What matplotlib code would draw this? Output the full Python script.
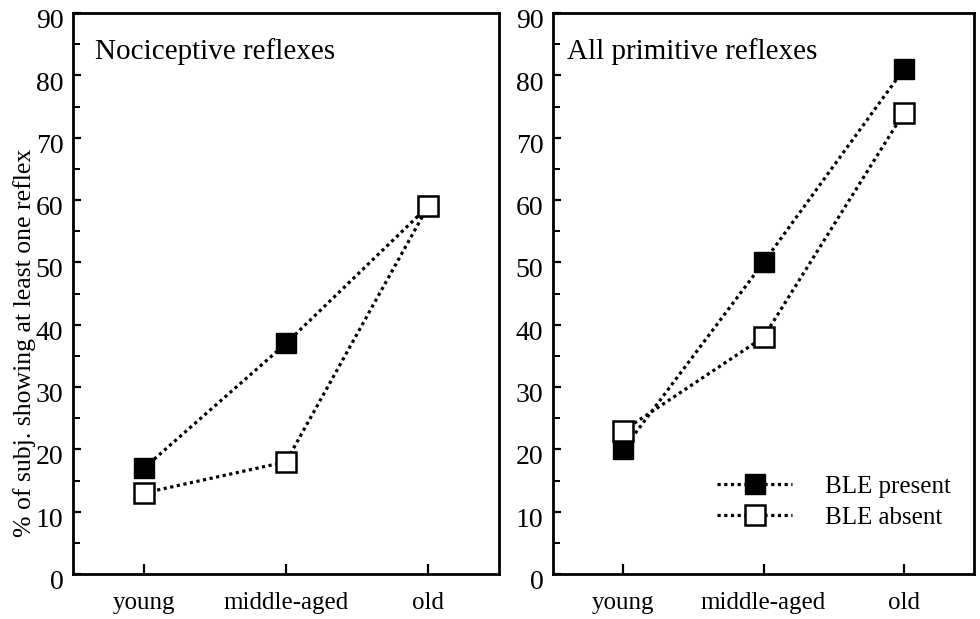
import matplotlib
matplotlib.use('Agg')
import matplotlib.pyplot as plt
from matplotlib.ticker import MultipleLocator
from matplotlib.transforms import ScaledTranslation

plt.rcParams['font.family'] = ['Liberation Serif', 'DejaVu Serif']

groups = ['young', 'middle-aged', 'old']

# Nociceptive reflexes
noci_present = [17, 37, 59]
noci_absent = [13, 18, 59]

# All primitive reflexes
prim_present = [20, 50, 81]
prim_absent = [23, 38, 74]

panel_titles = ['Nociceptive reflexes', 'All primitive reflexes']

fig = plt.figure(figsize=(9.8, 6.19), dpi=100)
ax1 = fig.add_axes([0.0745, 0.0727, 0.4347, 0.906])
ax2 = fig.add_axes([0.5643, 0.0727, 0.4296, 0.906])

x = list(range(len(groups)))

for ax, present, absent, title in [(ax1, noci_present, noci_absent, panel_titles[0]),
                                   (ax2, prim_present, prim_absent, panel_titles[1])]:
    ax.plot(x, present, linestyle=(0, (1, 1.1)), linewidth=2.3, color='black',
            marker='s', markersize=14, markerfacecolor='black',
            markeredgecolor='black', label='BLE present')
    ax.plot(x, absent, linestyle=(0, (1, 1.1)), linewidth=2.3, color='black',
            marker='s', markersize=14, markerfacecolor='white',
            markeredgecolor='black', markeredgewidth=1.8, label='BLE absent')

    ax.set_xlim(-0.5, 2.5)
    ax.set_ylim(0, 90)
    ax.set_xticks(x)
    ax.set_xticklabels(groups, fontsize=18)
    ax.yaxis.set_major_locator(MultipleLocator(10))
    ax.yaxis.set_minor_locator(MultipleLocator(5))
    ax.tick_params(axis='y', which='major', direction='in', length=6, width=1.6,
                   labelsize=20, pad=7)
    ax.tick_params(axis='y', which='minor', direction='in', length=5, width=1.4)
    ax.tick_params(axis='x', direction='in', length=7, width=1.6, pad=13)
    # scanned labels sit a little below their ticks
    shift = ScaledTranslation(0, -4 / 72, fig.dpi_scale_trans)
    for lab in ax.get_yticklabels():
        lab.set_transform(lab.get_transform() + shift)
    for sp in ax.spines.values():
        sp.set_linewidth(2)
    ax.text(0.052 if ax is ax1 else 0.033, 0.932, title, transform=ax.transAxes,
            fontsize=21, va='center', ha='left')

ax1.set_ylabel('% of subj. showing at least one reflex', fontsize=18.5)
ax1.yaxis.set_label_coords(-0.088, 0.412)

ax2.legend(loc='lower left', bbox_to_anchor=(0.39, 0.08), frameon=False, fontsize=18,
           handlelength=3.0, handletextpad=1.3, labelspacing=0.35,
           borderpad=0, borderaxespad=0)

plt.savefig('out.png')
